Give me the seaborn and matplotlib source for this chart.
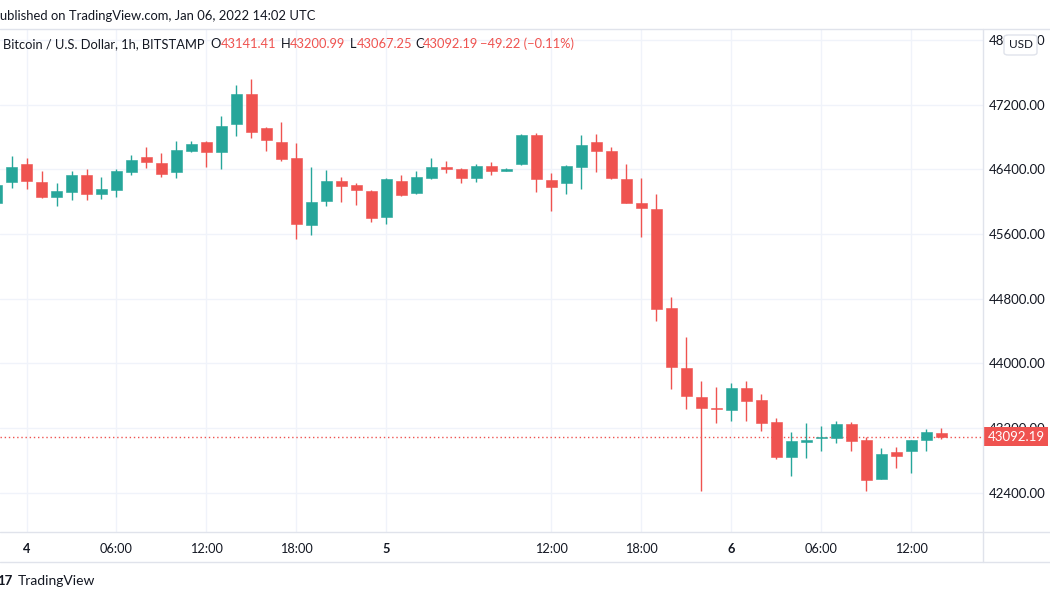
import numpy as np
import pandas as pd
import matplotlib
matplotlib.use("Agg")
import matplotlib.pyplot as plt
import matplotlib.transforms as mtransforms
from matplotlib.patches import Rectangle, FancyBboxPatch
from matplotlib.lines import Line2D
import seaborn as sns

# ---------------- data (1h candles, BTC/USD, BITSTAMP) ----------------
bar_index = list(range(-2, 62))
opens = [45979, 46239, 46461, 46246, 46053, 46122, 46325, 46094, 46144, 46370,
         46548, 46481, 46370, 46622, 46737, 46609, 46955, 47333, 46910, 46737,
         46535, 45707, 46008, 46258, 46205, 46128, 45810, 46258, 46103, 46288,
         46431, 46403, 46288, 46444, 46382, 46465, 46819, 46267, 46226, 46424,
         46733, 46629, 46283, 45979, 45905, 44682, 43948, 43590, 43454, 43422,
         43694, 43549, 43271, 42848, 43034, 43076, 43076, 43249, 43058, 42577,
         42903, 42919, 43051, 43141.41]
highs = [46242, 46564, 46539, 46378, 46234, 46378, 46403, 46300, 46403, 46580,
         46671, 46604, 46753, 46753, 46745, 47058, 47441, 47511, 46920, 46980,
         46724, 46431, 46391, 46300, 46234, 46144, 46288, 46329, 46378, 46539,
         46506, 46410, 46465, 46486, 46419, 46832, 46844, 46357, 46450, 46819,
         46832, 46671, 46461, 46288, 46090, 44825, 44324, 43787, 43710, 43763,
         43787, 43617, 43327, 43150, 43261, 43231, 43286, 43273, 43096, 42952,
         42972, 43060, 43191, 43200.99]
lows = [45946, 46172, 46156, 46045, 45946, 46020, 46020, 46032, 46061, 46329,
        46419, 46300, 46288, 46615, 46431, 46407, 46807, 46782, 46622, 46506,
        45534, 45588, 45946, 45999, 45958, 45748, 45720, 46070, 46095, 46280,
        46357, 46234, 46246, 46329, 46375, 46455, 46115, 45888, 46090, 46160,
        46370, 46280, 45980, 45559, 44521, 43685, 43434, 42428, 43261, 43293,
        43293, 43170, 42820, 42610, 42836, 42919, 43014, 42923, 42425, 42570,
        42713, 42651, 42919, 43067.25]
closes = [46205, 46431, 46251, 46053, 46128, 46325, 46090, 46152, 46378, 46510,
          46490, 46338, 46634, 46712, 46609, 46934, 47333, 46860, 46758, 46527,
          45720, 45995, 46258, 46197, 46144, 45794, 46276, 46078, 46300, 46431,
          46407, 46296, 46444, 46382, 46403, 46819, 46276, 46184, 46444, 46696,
          46622, 46288, 45987, 45918, 44673, 43953, 43595, 43446, 43434, 43694,
          43540, 43261, 42848, 43042, 43055, 43092, 43249, 43046, 42561, 42886,
          42861, 43055, 43150, 43092.19]

tick_positions = [0, 6, 12, 18, 24, 35, 41, 47, 53, 59]
tick_labels = ["4", "06:00", "12:00", "18:00", "5", "12:00", "18:00", "6", "06:00", "12:00"]
day_labels = ["4", "5", "6"]
price_ticks = [42400, 43200, 44000, 44800, 45600, 46400, 47200, 48000]
last_price = 43092.19

header_text = "Published on TradingView.com, Jan 06, 2022 14:02 UTC"
symbol_text = "Bitcoin / U.S. Dollar, 1h, BITSTAMP"
ohlc_letters = ["O", "H", "L", "C"]
ohlc_values = ["43141.41", "43200.99", "43067.25", "43092.19"]
change_text = "\u221249.22 (\u22120.11%)"

# ---------------- style ----------------
GREEN = "#26a69a"
RED = "#ef5350"
TEXT = "#131722"
GRID = "#f0f3fa"
SEP = "#e0e3eb"

sns.set_style("white")
plt.rcParams["font.family"] = ["Lato", "DejaVu Sans"]

df = pd.DataFrame({"i": bar_index, "o": opens, "h": highs, "l": lows, "c": closes})
df["up"] = df["c"] >= df["o"]
df["color"] = np.where(df["up"], GREEN, RED)
df["bottom"] = df[["o", "c"]].min(axis=1)
df["height"] = (df["c"] - df["o"]).abs()

W, H = 1050, 600
fig = plt.figure(figsize=(W / 100, H / 100), dpi=100)
fig.patch.set_facecolor("white")

def fx(x):
    return x / W

def fy(y):
    return 1 - y / H

pane_top, pane_bottom, pane_right = 29, 532, 983
ax = fig.add_axes([0, fy(pane_bottom), fx(pane_right), (pane_bottom - pane_top) / H])
ax.set_facecolor("white")

# wicks and bodies
ax.vlines(df["i"], df["l"], df["h"], colors=df["color"], linewidth=1.0, zorder=2)
ax.bar(df["i"], df["height"], bottom=df["bottom"], width=0.74, color=df["color"],
       edgecolor=df["color"], linewidth=0.4, zorder=3)

ax.set_xlim(-1.767, 63.77)
ax.set_ylim(41918, 48133)

# grid
ax.set_xticks(tick_positions)
ax.set_xticklabels(tick_labels)
ax.set_yticks(price_ticks)
ax.set_yticklabels([f"{p:.2f}" for p in price_ticks])
ax.grid(True, color=GRID, linewidth=1.0, zorder=0)
ax.set_axisbelow(True)
for s in ax.spines.values():
    s.set_visible(False)

ax.yaxis.tick_right()
ax.tick_params(axis="y", length=0, pad=4, labelsize=9.5, labelcolor=TEXT)
ax.tick_params(axis="x", length=0, pad=8, labelsize=9.2, labelcolor=TEXT)
for lab in ax.get_xticklabels():
    if lab.get_text() in day_labels:
        lab.set_fontweight("bold")

# last price dotted line
ax.axhline(last_price, color=RED, linestyle=(0, (1, 2)), linewidth=1.0, zorder=1)

# price label box on the axis
blend = mtransforms.blended_transform_factory(fig.transFigure, ax.transData)
box_h = 19 / ((pane_bottom - pane_top) / (48133 - 41918))
ax.add_patch(Rectangle((fx(983), last_price - box_h / 2), fx(1048) - fx(983), box_h,
                       transform=blend, facecolor=RED, edgecolor="none", clip_on=False, zorder=5))
ax.text(fx(1016), last_price, f"{last_price:.2f}", transform=blend, ha="center", va="center",
        color="white", fontsize=9.5, zorder=6, clip_on=False)

# separators
for y in (pane_top, pane_bottom, 562):
    fig.add_artist(Line2D([0, 1], [fy(y), fy(y)], color=SEP, linewidth=1.0))
fig.add_artist(Line2D([fx(983), fx(983)], [fy(pane_top), fy(562)], color=SEP, linewidth=1.0))

# USD badge
fig.add_artist(FancyBboxPatch((fx(1004), fy(55)), fx(33), 20 / H,
                              boxstyle="round,pad=0,rounding_size=0.004",
                              facecolor="white", edgecolor=SEP, linewidth=1.0, zorder=10))
fig.text(fx(1020.5), fy(45), "USD", ha="center", va="center", fontsize=8.5, color=TEXT, zorder=11)

# header texts
fig.text(fx(-7.5), fy(16), header_text, ha="left", va="center", fontsize=9.4, color=TEXT)
fig.text(fx(2.5), fy(44), symbol_text, ha="left", va="center", fontsize=9.3, color=TEXT)
letter_x = [210, 281, 350, 415]
value_x = [221, 290, 357, 423]
for lx, vx, letter, val in zip(letter_x, value_x, ohlc_letters, ohlc_values):
    fig.text(fx(lx), fy(44), letter, ha="left", va="center", fontsize=9.3, color=TEXT)
    fig.text(fx(vx), fy(44), val, ha="left", va="center", fontsize=9.3, color=RED)
fig.text(fx(480), fy(44), change_text, ha="left", va="center", fontsize=9.3, color=RED)

# footer logo
fig.text(fx(-3), fy(581), "17", ha="left", va="center", fontsize=9.5, fontweight="bold", color=TEXT)
fig.text(fx(18), fy(581), "TradingView", ha="left", va="center", fontsize=10, color=TEXT)

fig.savefig("out.png", dpi=100, facecolor="white")
